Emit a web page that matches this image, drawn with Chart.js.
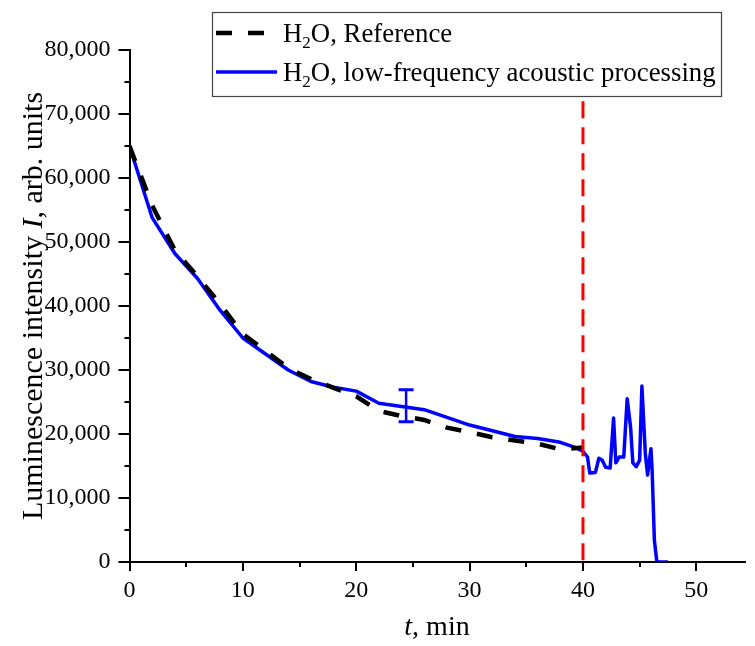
<!DOCTYPE html>
<html><head><meta charset="utf-8">
<script src="https://cdn.jsdelivr.net/npm/chart.js@4.4.0/dist/chart.umd.min.js"></script>
<style>html,body{margin:0;padding:0;background:#fff;}#wrap{width:755px;height:646px;}</style>
</head><body><div id="wrap"><canvas id="c" width="755" height="646"></canvas></div>
<script>
// ---- data ----
const refT = [0, 2, 4, 6, 8, 10, 12, 14, 16, 18, 20, 22, 24, 26, 28, 30, 32, 34, 36, 38, 40];
const refI = [65000, 55700, 48700, 44600, 40300, 35600, 33000, 30300, 28600, 27200, 25900, 23600, 22800, 22200, 21000, 20300, 19500, 19000, 18500, 17600, 17900];
const procT = [0, 2, 4, 6, 8, 10, 12, 14, 16, 18, 20, 22, 24, 26, 28, 30, 32, 34, 36, 38, 39.3, 40, 40.4, 40.6, 41.1, 41.4, 41.7, 42.0, 42.4, 42.7, 42.9, 43.2, 43.6, 43.9, 44.2, 44.4, 44.7, 45.0, 45.2, 45.5, 45.7, 46.0, 46.1, 46.3, 46.5, 46.6, 47.5];
const procI = [65000, 53800, 48200, 44300, 39300, 35000, 32500, 30000, 28200, 27300, 26700, 24800, 24300, 23800, 22600, 21400, 20500, 19600, 19300, 18700, 17900, 17300, 16400, 13900, 14000, 16200, 15900, 14800, 14700, 22500, 15500, 16400, 16400, 25500, 21100, 15500, 14900, 15900, 27500, 17000, 13600, 17700, 14400, 3400, 300, 0, 0];
const errT = [24.4];
const errLow = [21900];
const errHigh = [26900];
const markerT = [40];
const markerRange = [72000, 0];
const xTicks = [0, 10, 20, 30, 40, 50];
const xMinorTicks = [5, 15, 25, 35, 45];
const yTicks = [0, 10000, 20000, 30000, 40000, 50000, 60000, 70000, 80000];
const yMinorTicks = [5000, 15000, 25000, 35000, 45000, 55000, 65000, 75000];
const seriesNames = ['H\u2082O, Reference', 'H\u2082O, low-frequency acoustic processing'];
const legendParts = [['H', '2', 'O, Reference'], ['H', '2', 'O, low-frequency acoustic processing']];
const xTitleParts = [['t', true], [', min', false]];
const yTitleParts = [['Luminescence intensity ', false], ['I', true], [', arb. units', false]];

const FAM = '"Liberation Serif", "Times New Roman", serif';
const BLUE = '#0000ff';

const toXY = (xs, ys) => xs.map((x, i) => ({x: x, y: ys[i]}));

const datasets = [
  {label: 'marker', data: markerRange.map(v => ({x: markerT[0], y: v})), showLine: true,
   borderColor: '#ff0000', borderWidth: 3, borderDash: [17, 9], pointRadius: 0, borderCapStyle: 'butt'},
  {label: seriesNames[0], data: toXY(refT, refI), showLine: true, borderColor: '#000000',
   borderWidth: 4.5, borderDash: [16, 16], pointRadius: 0, tension: 0, borderCapStyle: 'butt'},
  {label: seriesNames[1], data: toXY(procT, procI), showLine: true, borderColor: BLUE,
   borderWidth: 3.5, pointRadius: 0, tension: 0, borderJoinStyle: 'round'},
  {label: 'error', data: [{x: errT[0], y: errLow[0]}, {x: errT[0], y: errHigh[0]}], showLine: true,
   borderColor: BLUE, borderWidth: 2.5, pointStyle: 'line', pointRadius: 7.5,
   pointBorderColor: BLUE, pointBorderWidth: 3, pointHoverRadius: 7.5}
];

function richWidth(ctx, parts, size) {
  let w = 0;
  parts.forEach(p => { ctx.font = (p[1] ? 'italic ' : '') + size + 'px ' + FAM; w += ctx.measureText(p[0]).width; });
  return w;
}
function drawRich(ctx, parts, size, x, y) {
  let cx = x;
  parts.forEach(p => {
    ctx.font = (p[1] ? 'italic ' : '') + size + 'px ' + FAM;
    ctx.fillText(p[0], cx, y);
    cx += ctx.measureText(p[0]).width;
  });
}

const extras = {
  id: 'extras',
  afterDraw(chart) {
    const ctx = chart.ctx;
    const xs = chart.scales.x, ys = chart.scales.y, ca = chart.chartArea;
    ctx.save();
    // minor ticks
    ctx.strokeStyle = '#000'; ctx.lineWidth = 2;
    xMinorTicks.forEach(v => {
      const px = Math.round(xs.getPixelForValue(v));
      ctx.beginPath(); ctx.moveTo(px, ca.bottom); ctx.lineTo(px, ca.bottom + 5); ctx.stroke();
    });
    yMinorTicks.forEach(v => {
      const py = Math.round(ys.getPixelForValue(v));
      ctx.beginPath(); ctx.moveTo(ca.left - 5, py); ctx.lineTo(ca.left, py); ctx.stroke();
    });
    // axis titles
    ctx.fillStyle = '#000'; ctx.textBaseline = 'middle'; ctx.textAlign = 'left';
    const xw = richWidth(ctx, xTitleParts, 28);
    drawRich(ctx, xTitleParts, 28, (ca.left + ca.right) / 2 - xw / 2, 628);
    ctx.save();
    ctx.translate(34, (ca.top + ca.bottom) / 2);
    ctx.rotate(-Math.PI / 2);
    const yw = richWidth(ctx, yTitleParts, 30);
    drawRich(ctx, yTitleParts, 30, -yw / 2, 0);
    ctx.restore();
    // legend
    const bx = 212, by = 12, bw = 509, bh = 84;
    ctx.fillStyle = '#fff'; ctx.fillRect(bx, by, bw, bh);
    ctx.strokeStyle = '#444'; ctx.lineWidth = 1.2; ctx.setLineDash([]);
    ctx.strokeRect(bx + 0.5, by + 0.5, bw, bh);
    const rows = [33, 72];
    const lf = 26.8;
    [1, 2].forEach((di, r) => {
      const ds = datasets[di];
      ctx.strokeStyle = ds.borderColor; ctx.lineWidth = ds.borderWidth;
      ctx.setLineDash(ds.borderDash || []); ctx.lineCap = 'butt';
      ctx.beginPath(); ctx.moveTo(216, rows[r]); ctx.lineTo(277, rows[r]); ctx.stroke();
      ctx.setLineDash([]);
      ctx.fillStyle = '#000'; ctx.textBaseline = 'alphabetic';
      const base = rows[r] + 9;
      let cx = 283;
      const p = legendParts[r];
      ctx.font = lf + 'px ' + FAM; ctx.fillText(p[0], cx, base); cx += ctx.measureText(p[0]).width;
      ctx.font = '17px ' + FAM; ctx.fillText(p[1], cx, base + 6); cx += ctx.measureText(p[1]).width;
      ctx.font = lf + 'px ' + FAM; ctx.fillText(p[2], cx, base);
    });
    ctx.restore();
  }
};

new Chart(document.getElementById('c'), {
  type: 'scatter',
  data: {datasets: datasets},
  options: {
    responsive: false, animation: false, devicePixelRatio: 1,
    layout: {padding: {top: 50, right: 0, left: 0, bottom: 0}},
    plugins: {legend: {display: false}, tooltip: {enabled: false}},
    scales: {
      x: {
        type: 'linear', min: 0, max: 54.25,
        afterBuildTicks: s => { s.ticks = xTicks.map(v => ({value: v})); },
        afterFit: s => { s.height = 84; },
        grid: {drawOnChartArea: false, drawTicks: true, tickLength: 9, color: '#000', lineWidth: 2},
        border: {display: true, color: '#000', width: 2},
        ticks: {color: '#000', font: {family: FAM, size: 24}, padding: 5, maxRotation: 0, autoSkip: false},
        title: {display: false}
      },
      y: {
        type: 'linear', min: 0, max: 80000,
        afterBuildTicks: s => { s.ticks = yTicks.map(v => ({value: v})); },
        afterFit: s => { s.width = 129.5; },
        grid: {drawOnChartArea: false, drawTicks: true, tickLength: 11, color: '#000', lineWidth: 2},
        border: {display: true, color: '#000', width: 2},
        ticks: {color: '#000', font: {family: FAM, size: 24}, padding: 8, autoSkip: false,
                callback: v => v.toLocaleString('en-US')},
        title: {display: false}
      }
    }
  },
  plugins: [extras]
});
</script></body></html>
